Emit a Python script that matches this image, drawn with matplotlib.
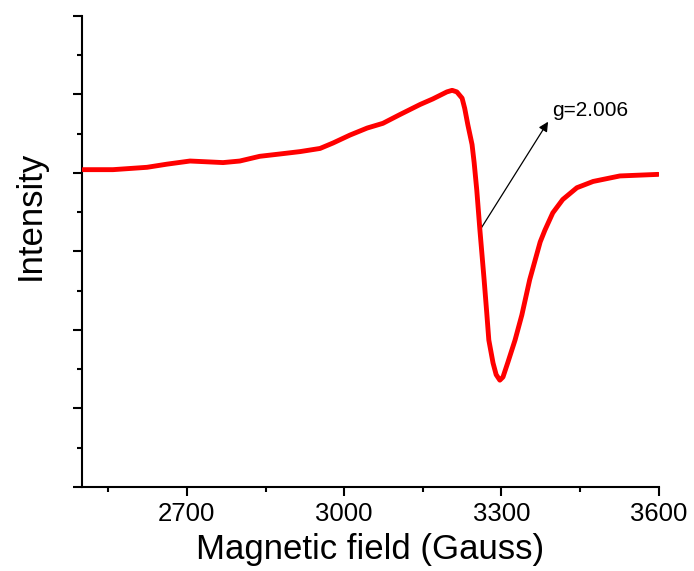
"""EPR spectrum: intensity vs magnetic field"""

import matplotlib.pyplot as plt
import matplotlib.ticker as ticker

# field values (Gauss) and intensity (arb. units)
field = [
    2502, 2559, 2624, 2662, 2706, 2738, 2769, 2801, 2839, 2878,
    2916, 2954, 2979, 3011, 3044, 3074, 3106, 3145, 3169, 3196,
    3206, 3215, 3225, 3230, 3236, 3244, 3248, 3253, 3259, 3267,
    3272, 3276, 3284, 3290, 3297, 3303, 3312, 3326, 3339, 3354,
    3374, 3383, 3398, 3417, 3444, 3475, 3526, 3599,
]
intensity = [
    4.04, 4.04, 4.07, 4.11, 4.15, 4.14, 4.13, 4.15, 4.21, 4.24,
    4.27, 4.31, 4.38, 4.48, 4.57, 4.63, 4.74, 4.87, 4.94, 5.03,
    5.05, 5.03, 4.95, 4.82, 4.61, 4.36, 4.13, 3.78, 3.27, 2.64,
    2.22, 1.87, 1.58, 1.43, 1.36, 1.40, 1.58, 1.87, 2.19, 2.64,
    3.12, 3.27, 3.49, 3.66, 3.81, 3.89, 3.96, 3.98,
]

x_major = [2700, 3000, 3300, 3600]
x_minor = [2550, 2850, 3150, 3450]
g_label = "g=2.006"
g_index = 28  # point on the curve the arrow starts from
arrow_tip = (3389, 4.65)
text_pos = (3396, 4.79)


def load_style():
    plt.rcParams["font.family"] = ["Liberation Sans", "DejaVu Sans"]
    plt.rcParams["axes.linewidth"] = 1.5


def draw(ax):
    ax.plot(field, intensity, color="#ff0000", linewidth=3.5,
            solid_joinstyle="round", solid_capstyle="round", zorder=5)

    # arrow + label
    ax.annotate("", xy=arrow_tip, xytext=(field[g_index], intensity[g_index]),
                arrowprops=dict(arrowstyle="-|>", color="black", lw=0.9,
                                mutation_scale=14, shrinkA=0, shrinkB=0))
    ax.text(text_pos[0], text_pos[1], g_label, fontsize=15,
            ha="left", va="center")

    ax.set_xlim(2500, 3600)
    ax.set_ylim(0, 6)
    ax.xaxis.set_major_locator(ticker.FixedLocator(x_major))
    ax.xaxis.set_minor_locator(ticker.FixedLocator(x_minor))
    ax.yaxis.set_major_locator(ticker.MultipleLocator(1))
    ax.yaxis.set_minor_locator(ticker.MultipleLocator(0.5))
    ax.yaxis.set_major_formatter(ticker.NullFormatter())

    for s in ("top", "right"):
        ax.spines[s].set_visible(False)
    ax.tick_params(which="major", length=6.5, width=1.5, labelsize=18.5, pad=4)
    ax.tick_params(which="minor", length=3.5, width=1.5)

    ax.set_xlabel("Magnetic field (Gauss)", fontsize=25, labelpad=5)
    ax.set_ylabel("Intensity", fontsize=25)
    ax.yaxis.set_label_coords(-0.062, 0.577)


if __name__ == "__main__":
    load_style()
    fig = plt.figure(figsize=(6.94, 5.71), dpi=100)
    ax = fig.add_axes([0.1182, 0.1471, 0.8309, 0.8254])
    draw(ax)
    fig.savefig("out.png", dpi=100)
